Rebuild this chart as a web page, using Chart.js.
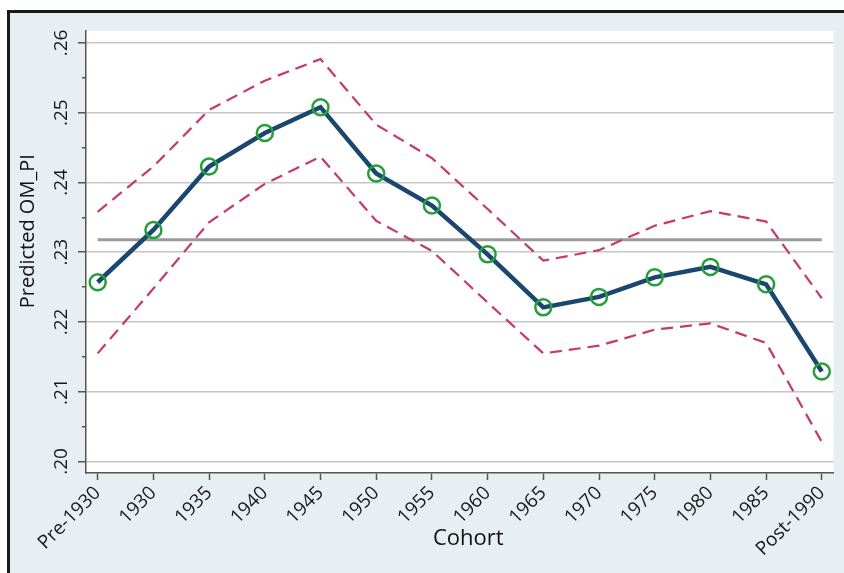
<!DOCTYPE html>
<html><head><meta charset="utf-8">
<script src="https://cdn.jsdelivr.net/npm/chart.js@4"></script>
<style>
html,body{margin:0;padding:0;background:#fff;overflow:hidden;width:844px;height:573px;}
#frame{position:absolute;left:7px;top:10px;width:860px;height:600px;background:#e8eff2;border-left:3px solid #1a1a1a;border-top:3px solid #1a1a1a;}
#c{position:absolute;left:0;top:0;}
</style></head><body>
<div id="frame"></div>
<canvas id="c" width="844" height="573"></canvas>
<script>
const cohorts = ['Pre-1930','1930','1935','1940','1945','1950','1955','1960','1965','1970','1975','1980','1985','Post-1990'];
const predicted = [0.2257,0.2332,0.2423,0.2471,0.2508,0.2413,0.2367,0.2297,0.2221,0.2236,0.2264,0.2279,0.2254,0.2129];
const upperCI = [0.2358,0.2423,0.2504,0.2546,0.2577,0.2483,0.2435,0.2362,0.2288,0.2303,0.2338,0.2359,0.2344,0.2234];
const lowerCI = [0.2155,0.2248,0.2343,0.2398,0.2437,0.2345,0.2302,0.2228,0.2155,0.2166,0.2189,0.2198,0.2170,0.2028];
const meanLevel = 0.2318;
const yTickValues = [0.200,0.205,0.210,0.215,0.220,0.225,0.230,0.235,0.240,0.245,0.250,0.255,0.260];
const yTickLabels = ['.20','','.21','','.22','','.23','','.24','','.25','','.26'];
const yTitle = 'Predicted OM_PI';
const xTitle = 'Cohort';

const toXY = arr => arr.map((v, i) => ({x: i, y: v}));

const plotBg = {
  id: 'plotBg',
  beforeDraw(chart) {
    const {ctx, chartArea: a} = chart;
    ctx.save();
    ctx.fillStyle = '#ffffff';
    ctx.fillRect(a.left, a.top, a.right - a.left, a.bottom - a.top);
    ctx.restore();
  }
};

const FONT = "'Open Sans', 'DejaVu Sans', sans-serif";

new Chart(document.getElementById('c'), {
  type: 'line',
  data: {
    datasets: [
      {
        data: toXY(predicted),
        borderColor: '#1a476f',
        borderWidth: 4.5,
        pointRadius: 8,
        pointBorderWidth: 2.5,
        pointBorderColor: '#23a03a',
        pointBackgroundColor: 'rgba(0,0,0,0)',
        tension: 0
      },
      {
        data: toXY(upperCI),
        borderColor: '#c93a62',
        borderWidth: 2.2,
        borderDash: [12, 7],
        pointRadius: 0,
        tension: 0
      },
      {
        data: toXY(lowerCI),
        borderColor: '#c93a62',
        borderWidth: 2.2,
        borderDash: [12, 7],
        pointRadius: 0,
        tension: 0
      },
      {
        data: [{x: 0, y: meanLevel}, {x: cohorts.length - 1, y: meanLevel}],
        borderColor: '#9a9a9a',
        borderWidth: 3,
        pointRadius: 0,
        tension: 0
      }
    ]
  },
  options: {
    responsive: false,
    animation: false,
    events: [],
    layout: {padding: {left: 10, top: 31, right: 9, bottom: 0}},
    plugins: {legend: {display: false}, tooltip: {enabled: false}},
    scales: {
      x: {
        type: 'linear',
        min: -0.21,
        max: 13.21,
        afterBuildTicks: s => { s.ticks = cohorts.map((_, i) => ({value: i})); },
        afterFit: s => { s.height = 100; },
        grid: {drawOnChartArea: false, tickLength: 7, tickColor: '#555', tickWidth: 1.5},
        border: {display: true, color: '#555', width: 1.5},
        ticks: {
          autoSkip: false,
          minRotation: 45,
          maxRotation: 45,
          padding: 2,
          color: '#1a1a1a',
          font: {family: FONT, size: 19},
          callback: v => cohorts[v]
        },
        title: {
          display: true,
          text: '   ' + xTitle,
          color: '#111',
          font: {family: FONT, size: 22},
          padding: {top: 0, bottom: 21}
        }
      },
      y: {
        type: 'linear',
        min: 0.19835,
        max: 0.26172,
        afterBuildTicks: s => { s.ticks = yTickValues.map(v => ({value: v})); },
        afterFit: s => { s.width = 76; },
        grid: {
          color: c => (c.index % 2 === 0 ? '#c6c6c6' : 'rgba(0,0,0,0)'),
          lineWidth: 1.5,
          tickLength: 8,
          tickColor: '#555',
          tickWidth: 1.5,
          tickBorderDash: c => (c.index % 2 === 0 ? [] : [4, 4]),
          tickBorderDashOffset: c => (c.index % 2 === 0 ? 0 : 4)
        },
        border: {display: true, color: '#555', width: 1.5},
        ticks: {
          minRotation: 90,
          maxRotation: 90,
          crossAlign: 'center',
          padding: 3,
          color: '#1a1a1a',
          font: {family: FONT, size: 19},
          callback: (v, i) => yTickLabels[i]
        },
        title: {
          display: true,
          text: '        ' + yTitle,
          color: '#111',
          font: {family: FONT, size: 20},
          padding: {top: 6, bottom: 0}
        }
      }
    }
  },
  plugins: [plotBg]
});
</script>
</body></html>
